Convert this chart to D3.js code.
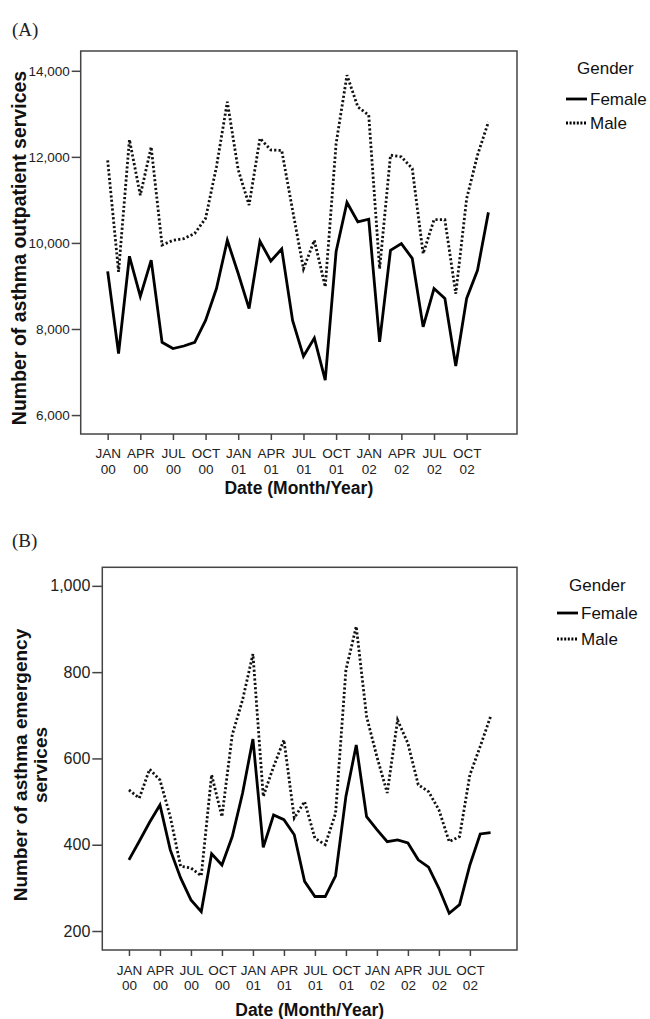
<!DOCTYPE html>
<html><head><meta charset="utf-8">
<script src="https://cdn.jsdelivr.net/npm/d3@7"></script>
<style>body{margin:0;background:#fff}svg{display:block}</style>
</head><body>
<script>
// ---- data ----
const monthIndex = d3.range(36); // Jan 2000 .. Dec 2002
const tickIndex = [0,3,6,9,12,15,18,21,24,27,30,33];
const tickMonths = ["JAN","APR","JUL","OCT","JAN","APR","JUL","OCT","JAN","APR","JUL","OCT"];
const tickYears  = ["00","00","00","00","01","01","01","01","02","02","02","02"];
const seriesNames = ["Female","Male"];

const femaleOutpatient = [9340,7430,9690,8760,9600,7690,7545,7605,7690,8200,8940,10060,9290,8475,10040,9580,9860,8200,7365,7790,6810,9800,10940,10490,10550,7700,9830,9985,9640,8050,8940,8710,7140,8710,9365,10710];
const maleOutpatient   = [11920,9330,12400,11110,12230,9950,10060,10100,10220,10570,11770,13280,11700,10880,12430,12160,12150,10760,9400,10060,8980,12310,13900,13160,12970,9400,12040,12000,11730,9750,10540,10540,8820,11030,12040,12810];
const outpatientTicks  = [6000,8000,10000,12000,14000];

const femaleEmergency = [365,408,452,492,388,323,272,245,379,353,419,520,645,394,469,458,423,315,280,280,328,512,631,465,435,407,411,404,365,348,299,241,261,353,425,428];
const maleEmergency   = [527,508,575,550,465,350,346,328,562,465,655,736,842,512,581,643,462,500,415,400,473,805,906,697,604,520,689,635,539,523,481,407,419,562,628,697];
const emergencyTicks  = [200,400,600,800,1000];

const W = 650, H = 1019;
const svg = d3.select("body").append("svg").attr("width", W).attr("height", H);
const fmt = d3.format(",");

function panel(cfg) {
  const g = svg.append("g");
  const x = d3.scaleLinear().domain(cfg.xDomain).range([cfg.left, cfg.right]);
  const y = d3.scaleLinear().domain(cfg.yDomain).range([cfg.bottom, cfg.top]);

  // panel letter
  g.append("text").attr("x", 12).attr("y", cfg.letterY)
    .attr("font-family", "Liberation Serif, serif").attr("font-size", 19)
    .attr("fill", "#222").text(cfg.letter);

  // frame
  g.append("rect").attr("x", cfg.left).attr("y", cfg.top)
    .attr("width", cfg.right - cfg.left).attr("height", cfg.bottom - cfg.top)
    .attr("fill", "none").attr("stroke", "#444").attr("stroke-width", 1.5);

  // y axis
  const ya = g.append("g").attr("transform", `translate(${cfg.left},0)`)
    .call(d3.axisLeft(y).tickValues(cfg.yTicks).tickFormat(fmt).tickSize(cfg.yTickSize).tickPadding(2));
  ya.select(".domain").remove();
  ya.selectAll(".tick line").attr("stroke", "#444").attr("stroke-width", 1.5);
  ya.selectAll(".tick text").attr("font-family", "Liberation Sans, Arial, sans-serif")
    .attr("font-size", cfg.yTickFont).attr("fill", "#222");

  // x axis
  const xa = g.append("g").attr("transform", `translate(0,${cfg.bottom})`)
    .call(d3.axisBottom(x).tickValues(tickIndex).tickFormat("").tickSize(6));
  xa.select(".domain").remove();
  xa.selectAll(".tick line").attr("stroke", "#444").attr("stroke-width", 1.5);
  xa.selectAll(".tick").each(function(d, i) {
    const t = d3.select(this).append("text")
      .attr("font-family", "Liberation Sans, Arial, sans-serif")
      .attr("font-size", cfg.xTickFont).attr("fill", "#222").attr("text-anchor", "middle");
    t.append("tspan").attr("x", 0).attr("y", cfg.xLab1).text(tickMonths[i]);
    t.append("tspan").attr("x", 0).attr("y", cfg.xLab2).text(tickYears[i]);
  });

  // axis titles
  g.append("text").attr("x", (cfg.left + cfg.right) / 2).attr("y", cfg.xTitleY)
    .attr("text-anchor", "middle").attr("font-family", "Liberation Sans, Arial, sans-serif")
    .attr("font-weight", "bold").attr("font-size", cfg.xTitleFont).attr("fill", "#111")
    .text("Date (Month/Year)");
  cfg.yTitle.forEach((line, k) => {
    g.append("text")
      .attr("transform", `translate(${cfg.yTitleX[k]},${cfg.yTitleCY}) rotate(-90)`)
      .attr("text-anchor", "middle").attr("dominant-baseline", "central")
      .attr("font-family", "Liberation Sans, Arial, sans-serif")
      .attr("font-weight", "bold").attr("font-size", cfg.yTitleFont).attr("fill", "#111")
      .text(line);
  });

  // lines
  const line = d3.line().x((d, i) => x(monthIndex[i])).y(d => y(d));
  g.append("path").datum(cfg.female).attr("d", line).attr("fill", "none")
    .attr("stroke", "#000").attr("stroke-width", 2.8).attr("stroke-linejoin", "miter");
  g.append("path").datum(cfg.male).attr("d", line).attr("fill", "none")
    .attr("stroke", "#111").attr("stroke-width", 2.8).attr("stroke-dasharray", "2.2,2.2");

  // legend
  const lg = g.append("g").attr("font-family", "Liberation Sans, Arial, sans-serif")
    .attr("font-size", cfg.legFont).attr("fill", "#111");
  lg.append("text").attr("x", cfg.legGenderX).attr("y", cfg.legY0).text("Gender");
  seriesNames.forEach((name, k) => {
    const yy = cfg.legY1 + k * cfg.legStep;
    lg.append("line").attr("x1", cfg.legLineX).attr("x2", cfg.legLineX + cfg.legLineW)
      .attr("y1", yy).attr("y2", yy).attr("stroke", "#000").attr("stroke-width", 2.8)
      .attr("stroke-dasharray", k === 1 ? "2,1.6" : null);
    lg.append("text").attr("x", cfg.legLineX + cfg.legLineW + 3).attr("y", yy)
      .attr("dominant-baseline", "central").text(name);
  });
}

panel({
  letter: "(A)", letterY: 36,
  left: 80.7, right: 517, top: 51, bottom: 434,
  xDomain: [-2.48, 37.63], yDomain: [5560, 14460],
  yTicks: outpatientTicks, yTickSize: 9, yTickFont: 13.5,
  xTickFont: 13.5, xLab1: 24, xLab2: 40,
  xTitleY: 494, xTitleFont: 17.5,
  yTitle: ["Number of asthma outpatient services"], yTitleX: [19], yTitleCY: 248, yTitleFont: 19.5,
  female: femaleOutpatient, male: maleOutpatient,
  legFont: 17, legGenderX: 577, legY0: 74, legLineX: 566, legLineW: 21, legY1: 99, legStep: 24
});

panel({
  letter: "(B)", letterY: 547,
  left: 102.3, right: 517, top: 567.3, bottom: 950,
  xDomain: [-2.58, 37.56], yDomain: [156, 1043],
  yTicks: emergencyTicks, yTickSize: 10, yTickFont: 16,
  xTickFont: 13.5, xLab1: 25, xLab2: 40,
  xTitleY: 1016, xTitleFont: 17.5,
  yTitle: ["Number of asthma emergency", "services"], yTitleX: [20, 40], yTitleCY: 765, yTitleFont: 19,
  female: femaleEmergency, male: maleEmergency,
  legFont: 17, legGenderX: 569, legY0: 591, legLineX: 557, legLineW: 21, legY1: 613, legStep: 26
});
</script>
</body></html>
